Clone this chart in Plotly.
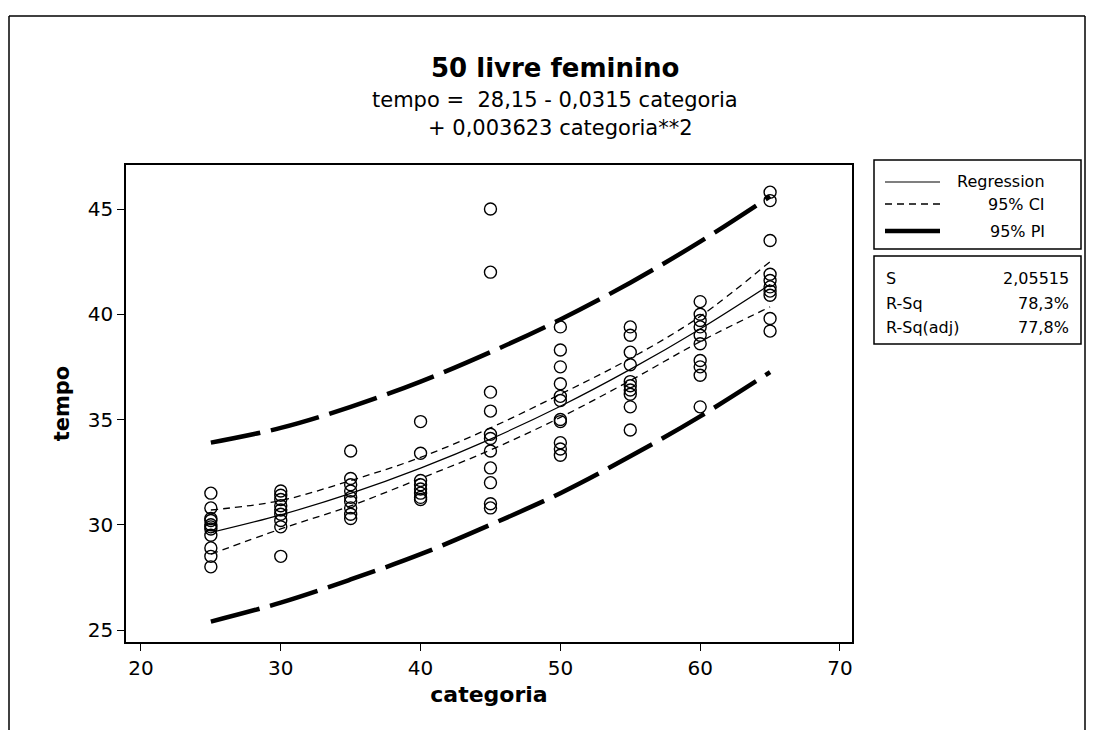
import plotly.graph_objects as go

# ---------------- data ----------------
cat_levels = [25, 30, 35, 40, 45, 50, 55, 60, 65]
tempo_25 = [31.5, 30.8, 30.3, 30.2, 30.0, 29.9, 29.8, 29.5, 28.9, 28.5, 28.0]
tempo_30 = [31.6, 31.4, 31.2, 30.9, 30.7, 30.5, 30.2, 29.9, 28.5]
tempo_35 = [33.5, 32.2, 31.9, 31.6, 31.3, 31.1, 30.8, 30.5, 30.3]
tempo_40 = [34.9, 33.4, 32.1, 31.9, 31.7, 31.5, 31.3, 31.2]
tempo_45 = [45.0, 42.0, 36.3, 35.4, 34.3, 34.1, 33.5, 32.7, 32.0, 31.0, 30.8]
tempo_50 = [39.4, 38.3, 37.5, 36.7, 36.1, 35.9, 35.0, 34.9, 33.9, 33.6, 33.3]
tempo_55 = [39.4, 39.0, 38.2, 37.6, 36.8, 36.6, 36.4, 36.2, 35.6, 34.5]
tempo_60 = [40.6, 40.0, 39.7, 39.4, 39.0, 38.6, 37.8, 37.5, 37.1, 35.6]
tempo_65 = [45.8, 45.4, 43.5, 41.9, 41.6, 41.3, 41.1, 40.9, 39.8, 39.2]

fit_vals = [29.63, 30.47, 31.49, 32.69, 34.07, 35.63, 37.38, 39.30, 41.41]
ci_upper = [30.70, 31.15, 32.10, 33.20, 34.60, 36.20, 37.90, 39.90, 42.50]
ci_lower = [28.60, 29.80, 30.90, 32.20, 33.55, 35.10, 36.85, 38.70, 40.35]
pi_upper = [33.90, 34.60, 35.60, 36.80, 38.20, 39.75, 41.50, 43.45, 45.60]
pi_lower = [25.40, 26.30, 27.40, 28.60, 30.00, 31.50, 33.25, 35.15, 37.25]

x_ticks = [20, 30, 40, 50, 60, 70]
y_ticks = [25, 30, 35, 40, 45]

title_text = "<b>50 livre feminino</b>"
sub1 = "tempo =  28,15 - 0,0315 categoria"
sub2 = "+ 0,003623 categoria**2"
legend_items = ["Regression", "95% CI", "95% PI"]
stat_names = ["S", "R-Sq", "R-Sq(adj)"]
stat_values = ["2,05515", "78,3%", "77,8%"]

# ---------------- figure ----------------
OFF = 8  # page body margin
W, H = 1094 - 2 * OFF, 738 - 2 * OFF
L, R, T, B = 126, 852, 165, 642   # plot frame in reference pixel coords
FONT = "DejaVu Sans"

groups = [tempo_25, tempo_30, tempo_35, tempo_40, tempo_45,
          tempo_50, tempo_55, tempo_60, tempo_65]
xs, ys = [], []
for c, vals in zip(cat_levels, groups):
    xs += [c] * len(vals)
    ys += vals

fig = go.Figure()
fig.add_trace(go.Scatter(x=cat_levels, y=pi_upper, mode="lines",
                         line=dict(color="black", width=4.5, dash="50px,11px", shape="spline")))
fig.add_trace(go.Scatter(x=cat_levels, y=pi_lower, mode="lines",
                         line=dict(color="black", width=4.5, dash="50px,11px", shape="spline")))
fig.add_trace(go.Scatter(x=cat_levels, y=ci_upper, mode="lines",
                         line=dict(color="black", width=1.3, dash="7px,5px", shape="spline")))
fig.add_trace(go.Scatter(x=cat_levels, y=ci_lower, mode="lines",
                         line=dict(color="black", width=1.3, dash="7px,5px", shape="spline")))
fig.add_trace(go.Scatter(x=cat_levels, y=fit_vals, mode="lines",
                         line=dict(color="black", width=1.2, shape="spline")))
fig.add_trace(go.Scatter(x=xs, y=ys, mode="markers",
                         marker=dict(symbol="circle-open", size=12, color="black",
                                     line=dict(width=1.4, color="black"))))


def px(xp):
    return (xp - L) / (R - L)


def py(yp):
    return (B - yp) / (B - T)


shapes = []
# outer frame (top, left, right)
shapes.append(dict(type="line", xref="paper", yref="paper", x0=px(9), x1=px(1085),
                   y0=py(16), y1=py(16), line=dict(color="black", width=1.5)))
shapes.append(dict(type="line", xref="paper", yref="paper", x0=px(9), x1=px(9),
                   y0=py(16), y1=py(745), line=dict(color="black", width=1.5)))
shapes.append(dict(type="line", xref="paper", yref="paper", x0=px(1085), x1=px(1085),
                   y0=py(16), y1=py(745), line=dict(color="black", width=1.5)))
# legend boxes
shapes.append(dict(type="rect", xref="paper", yref="paper", x0=px(874), x1=px(1081),
                   y0=py(249), y1=py(160), line=dict(color="black", width=1.5)))
shapes.append(dict(type="rect", xref="paper", yref="paper", x0=px(874), x1=px(1081),
                   y0=py(344), y1=py(256), line=dict(color="black", width=1.5)))
# legend samples
shapes.append(dict(type="line", xref="paper", yref="paper", x0=px(885), x1=px(940),
                   y0=py(182), y1=py(182), line=dict(color="black", width=1.2)))
shapes.append(dict(type="line", xref="paper", yref="paper", x0=px(885), x1=px(940),
                   y0=py(204), y1=py(204), line=dict(color="black", width=1.3, dash="7px,5px")))
shapes.append(dict(type="line", xref="paper", yref="paper", x0=px(885), x1=px(940),
                   y0=py(231), y1=py(231), line=dict(color="black", width=4.5)))

annotations = []
annotations.append(dict(text=title_text, xref="paper", yref="paper", x=px(555), y=py(68),
                        showarrow=False, xanchor="center", yanchor="middle",
                        font=dict(family=FONT, size=26, color="black")))
annotations.append(dict(text=sub1, xref="paper", yref="paper", x=px(555), y=py(100),
                        showarrow=False, xanchor="center", yanchor="middle",
                        font=dict(family=FONT, size=21, color="black")))
annotations.append(dict(text=sub2, xref="paper", yref="paper", x=px(560), y=py(128),
                        showarrow=False, xanchor="center", yanchor="middle",
                        font=dict(family=FONT, size=21, color="black")))
for txt, yy in zip(legend_items, [182, 204, 231]):
    annotations.append(dict(text=txt, xref="paper", yref="paper", x=px(1047), y=py(yy),
                            showarrow=False, xanchor="right", yanchor="middle",
                            font=dict(family=FONT, size=16, color="black")))
for nm, val, yy in zip(stat_names, stat_values, [278, 303, 327]):
    annotations.append(dict(text=nm, xref="paper", yref="paper", x=px(884), y=py(yy),
                            showarrow=False, xanchor="left", yanchor="middle",
                            font=dict(family=FONT, size=16, color="black")))
    annotations.append(dict(text=val, xref="paper", yref="paper", x=px(1071), y=py(yy),
                            showarrow=False, xanchor="right", yanchor="middle",
                            font=dict(family=FONT, size=16, color="black")))

fig.update_layout(
    width=W, height=H,
    margin=dict(l=L - OFF, r=(1094 - OFF) - R, t=T - OFF, b=(738 - OFF) - B, pad=0),
    paper_bgcolor="white", plot_bgcolor="white",
    showlegend=False,
    font=dict(family=FONT, color="black"),
    shapes=shapes, annotations=annotations,
    xaxis=dict(range=[18.93, 70.86], tickvals=x_ticks, ticks="outside", ticklen=7,
               tickwidth=1.3, tickcolor="black", showgrid=False, zeroline=False,
               showline=True, linecolor="black", linewidth=1.5, mirror=True,
               tickfont=dict(family=FONT, size=20, color="black"),
               title=dict(text="<b>categoria</b>", font=dict(family=FONT, size=22, color="black"),
                          standoff=8)),
    yaxis=dict(range=[24.43, 47.09], tickvals=y_ticks, ticks="outside", ticklen=7,
               tickwidth=1.3, tickcolor="black", showgrid=False, zeroline=False,
               showline=True, linecolor="black", linewidth=1.5, mirror=True,
               tickfont=dict(family=FONT, size=20, color="black"),
               title=dict(text="<b>tempo</b>", font=dict(family=FONT, size=21, color="black"),
                          standoff=12)),
)

fig.write_html("out.html")
